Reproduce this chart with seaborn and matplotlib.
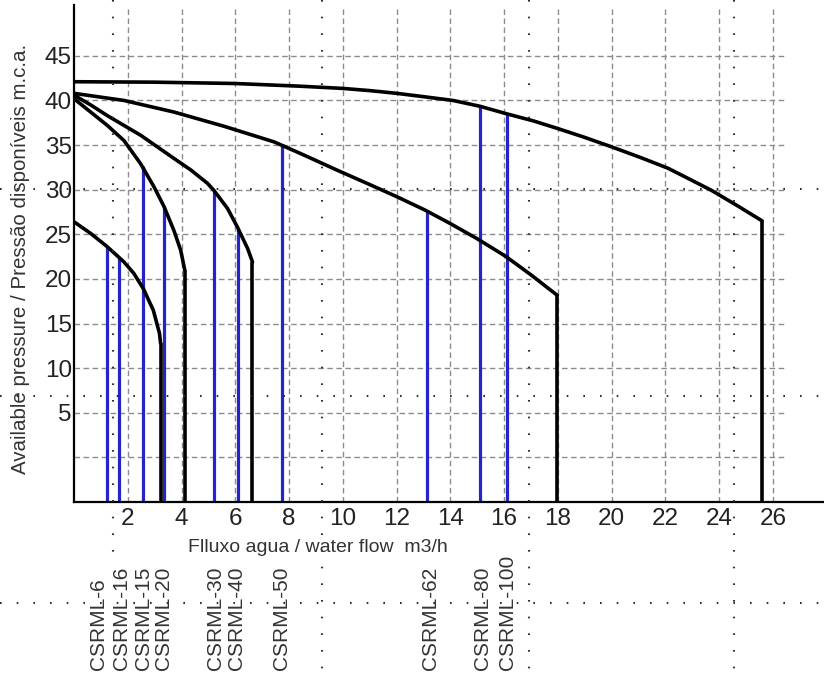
import numpy as np
import pandas as pd
import seaborn as sns
import matplotlib.pyplot as plt
import matplotlib.transforms as mtransforms
from matplotlib.lines import Line2D

# --- data ---
# pump curves (flow m3/h, pressure m.c.a.), each ends with a vertical drop
curve_a_flow = [0, 3, 6, 8.4, 10, 11.02, 12, 13.07, 14.1, 15.1, 16.1, 17.1, 18,
                18.96, 20, 21.08, 22.1, 22.82, 23.7, 24.68, 25.6]
curve_a_pres = [42.1, 42.05, 41.9, 41.6, 41.35, 41.1, 40.8, 40.4, 40.0, 39.35, 38.5, 37.7, 36.85,
                35.9, 34.8, 33.6, 32.4, 31.3, 29.95, 28.2, 26.5]

curve_b_flow = [0, 1.86, 3.72, 5.59, 7.45, 8.54, 9.78, 11.02, 12.02, 13.07, 14.0,
                15.0, 16.05, 16.98, 17.98]
curve_b_pres = [40.8, 40.0, 38.7, 37.1, 35.35, 33.9, 32.2, 30.55, 29.2, 27.7, 26.2,
                24.5, 22.55, 20.5, 18.16]

curve_c_flow = [0, 0.62, 1.24, 1.86, 2.48, 3.10, 3.72, 4.35, 4.97, 5.21, 5.71, 6.08, 6.46, 6.64]
curve_c_pres = [40.6, 39.5, 38.3, 37.2, 36.1, 34.8, 33.5, 32.2, 30.7, 29.9, 27.9, 25.8, 23.4, 21.9]

curve_d_flow = [0, 0.62, 1.24, 1.86, 2.48, 2.98, 3.35, 3.72, 3.97, 4.12]
curve_d_pres = [40.2, 38.7, 37.2, 35.5, 32.9, 30.3, 28.1, 25.4, 23.2, 21.0]

curve_e_flow = [0, 0.62, 1.24, 1.86, 2.23, 2.58, 2.95, 3.18, 3.22]
curve_e_pres = [26.4, 25.1, 23.6, 21.9, 20.6, 18.9, 16.5, 13.9, 12.8]

# models: blue marker lines
models = ["CSRML-6", "CSRML-16", "CSRML-15", "CSRML-20", "CSRML-30",
          "CSRML-40", "CSRML-50", "CSRML-62", "CSRML-80", "CSRML-100"]
model_flow = [1.24, 1.68, 2.55, 3.33, 5.22, 6.1, 7.73, 13.12, 15.12, 16.09]
model_pres = [23.6, 22.3, 32.6, 28.2, 29.9, 25.6, 35.1, 27.6, 39.35, 38.5]
label_flow = [0.93, 1.78, 2.58, 3.33, 5.25, 6.06, 7.73, 13.26, 15.18, 16.11]

x_ticks = list(range(2, 27, 2))
y_ticks = list(range(5, 46, 5))
y_grid = list(range(0, 46, 5))

curves = {"a": (curve_a_flow, curve_a_pres), "b": (curve_b_flow, curve_b_pres),
          "c": (curve_c_flow, curve_c_pres), "d": (curve_d_flow, curve_d_pres),
          "e": (curve_e_flow, curve_e_pres)}
df = pd.concat([pd.DataFrame({"flow": f, "pressure": p, "curve": k})
                for k, (f, p) in curves.items()], ignore_index=True)

sns.set_theme(style="white")
plt.rcParams["font.family"] = ["Liberation Sans", "DejaVu Sans"]

fig = plt.figure(figsize=(8.24, 6.74), dpi=100)
ax = fig.add_axes([0.0898, 0.2552, 0.9102, 0.7374])
ax.set_xlim(0, 27.9)
ax.set_ylim(-5, 50.7)
y_floor = ax.get_ylim()[0]

# grid
grid_kw = dict(color="#8c8c8c", lw=1.0, linestyle=(0, (4, 2.5)), zorder=0)
ax.hlines(y_grid, 0, 26.4, **grid_kw)
ax.vlines(x_ticks, y_floor, 50.2, **grid_kw)

# blue model lines
ax.vlines(model_flow, y_floor, model_pres, color="#2424c8", lw=2.3, zorder=2)

# pump curves
sns.lineplot(data=df, x="flow", y="pressure", units="curve", estimator=None,
             sort=False, color="black", lw=2.6, ax=ax, zorder=3)
for k, (f, p) in curves.items():
    ax.vlines(f[-1], y_floor, p[-1], color="black", lw=2.6, zorder=3)

ax.set_xticks(x_ticks)
ax.set_yticks(y_ticks)
ax.tick_params(length=0, labelsize=17.5, colors="#222222")
ax.tick_params(axis="x", pad=4)
ax.tick_params(axis="y", pad=1.5)
for s in ["top", "right"]:
    ax.spines[s].set_visible(False)
for s in ["left", "bottom"]:
    ax.spines[s].set_color("black")
    ax.spines[s].set_linewidth(1.6)

ax.set_xlabel("Flluxo agua / water flow  m3/h", fontsize=14, color="#333333")
ax.xaxis.set_label_coords(0.325, -0.074)
ax.set_ylabel("Available pressure / Pressão disponíveis m.c.a.", fontsize=14.8, color="#333333")
ax.yaxis.set_label_coords(-0.058, 0.49)

trans = mtransforms.blended_transform_factory(ax.transData, ax.transAxes)
for name, xf in zip(models, label_flow):
    ax.text(xf, -0.338, name, transform=trans, rotation=90, ha="center",
            va="bottom", fontsize=15, color="#333333")

# dotted page-tile lines from the scan
W, H = 824.0, 674.0
dot_kw = dict(color="#333333", lw=1.5, linestyle=(0, (0.8, 7.2)), zorder=5)
for px, y0 in [(113, 560), (322, 674), (529, 674), (734, 674)]:
    fig.add_artist(Line2D([px / W, px / W], [1, 1 - y0 / H], transform=fig.transFigure, **dot_kw))
for py in [189, 396, 603]:
    fig.add_artist(Line2D([0, 1], [1 - py / H, 1 - py / H], transform=fig.transFigure, **dot_kw))

fig.savefig("out.png", dpi=100)
